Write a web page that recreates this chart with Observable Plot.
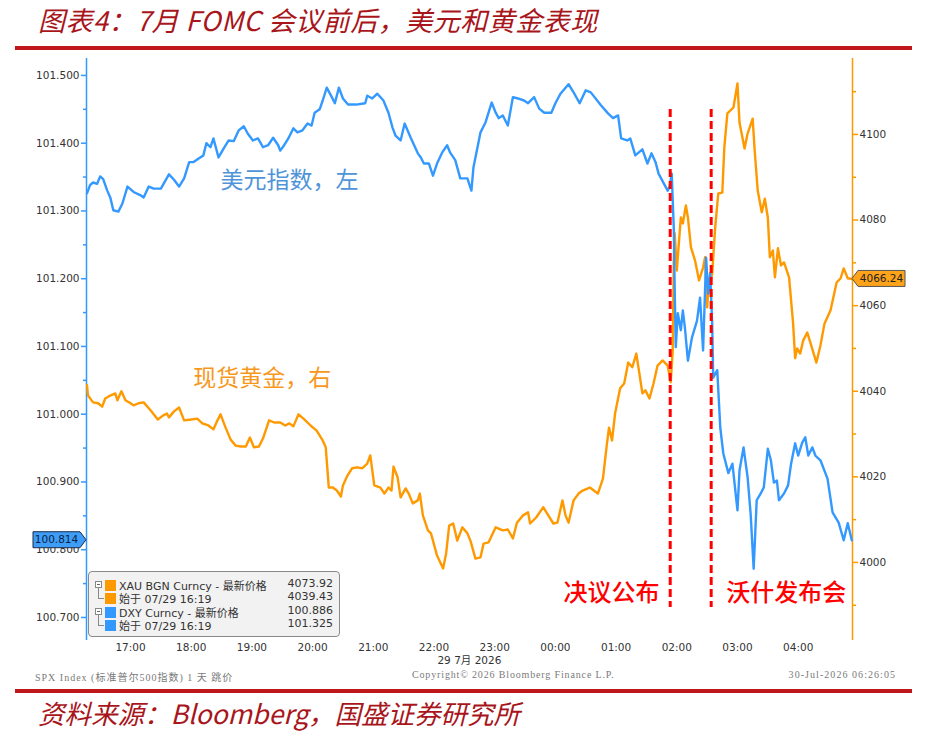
<!DOCTYPE html>
<html>
<head>
<meta charset="utf-8">
<script src="https://cdn.jsdelivr.net/npm/d3@7"></script>
<script src="https://cdn.jsdelivr.net/npm/@observablehq/plot@0.6"></script>
<style>
  body { margin: 0; background: #fff; }
  #page { position: relative; width: 931px; height: 743px; overflow: hidden; font-family: "Noto Sans CJK SC", sans-serif; }
  .title { position: absolute; left: 38px; top: 0px; font-size: 27px; font-style: italic; color: #a8151b; white-space: nowrap; letter-spacing: 0.5px; }
  .source { position: absolute; left: 38px; top: 693px; font-size: 26.5px; font-style: italic; color: #a8151b; white-space: nowrap; }
  .rule { position: absolute; left: 15px; width: 897px; height: 4px; background: #c0171d; }
  #chart { position: absolute; left: 0; top: 52px; }
  .foot { position: absolute; top: 669px; font-family: "Liberation Serif", "Noto Sans CJK SC", serif; font-size: 10px; color: #7a7a7a; white-space: nowrap; }
  #legend { position: absolute; left: 88px; top: 571px; width: 250px; height: 64px; background: #f2f2f2; border: 1.5px solid #8a8a8a; border-radius: 4px; font-family: "DejaVu Sans", "Noto Sans CJK SC", sans-serif; font-size: 11px; color: #333; }
  .lrow { position: absolute; left: 0; width: 250px; height: 13px; }
  .lsq { position: absolute; left: 16px; top: 1px; width: 11px; height: 11px; }
  .ltxt { position: absolute; left: 30px; top: -2px; white-space: nowrap; }
  .lval { position: absolute; right: 6px; top: -2px; white-space: nowrap; }
  .tree-box { position: absolute; left: 6px; top: 2px; width: 5px; height: 5px; border: 1px solid #888; background: #fff; }
  .tree-box::after { content: ""; position: absolute; left: 1px; top: 2px; width: 3px; height: 1px; background: #666; }
  .tree-l { position: absolute; left: 9px; top: -4px; width: 5px; height: 10px; border-left: 1px solid #888; border-bottom: 1px solid #888; }
</style>
</head>
<body>
<div id="page">
  <div class="title" id="title"></div>
  <div class="rule" style="top:46px"></div>
  <div id="chart"></div>
  <div id="legend"></div>
  <div class="foot" id="foot1" style="left:35px; letter-spacing:1px"></div>
  <div class="foot" id="foot2" style="left:412px; letter-spacing:0.85px"></div>
  <div class="foot" id="foot3" style="right:35px; letter-spacing:1.05px"></div>
  <div class="rule" style="top:689px"></div>
  <div class="source" id="source"></div>
</div>
<script>
// ---------- texts ----------
const titleText = "图表4：7月 FOMC 会议前后，美元和黄金表现";
const sourceText = "资料来源：Bloomberg，国盛证券研究所";
const footTexts = ["SPX Index (标准普尔500指数) 1 天 跳价", "Copyright© 2026 Bloomberg Finance L.P.", "30-Jul-2026 06:26:05"];

// ---------- x axis: minutes after 16:00 on 29 Jul ----------
const hourMinutes = [60, 120, 180, 240, 300, 360, 420, 480, 540, 600, 660, 720];
const hourLabels = ["17:00", "18:00", "19:00", "20:00", "21:00", "22:00", "23:00", "00:00", "01:00", "02:00", "03:00", "04:00"];
const dateLabel = "29 7月 2026";
const xDomain = [16.5, 773.7];

// ---------- y axes ----------
const dxyMajor = [100.7, 100.8, 100.9, 101.0, 101.1, 101.2, 101.3, 101.4, 101.5];
const dxyMinor = [100.75, 100.85, 100.95, 101.05, 101.15, 101.25, 101.35, 101.45];
const goldMajor = [4000, 4020, 4040, 4060, 4080, 4100];
const goldMinor = [3990, 4010, 4030, 4050, 4070, 4090, 4110];
const dxyDomain = [100.666, 101.525];
// gold axis values aligned with left-axis values (dual axis)
const goldAlign = [4000, 4100];
const dxyAlign = [100.7812, 101.4129];

// ---------- series: [minutes after 16:00, value] ----------
const dxy = [[17,101.326],[20,101.338],[23,101.342],[27,101.340],[30,101.351],[33,101.347],[37,101.330],[40,101.320],[43,101.301],[48,101.299],[52,101.311],[57,101.336],[63,101.328],[70,101.323],[73,101.320],[78,101.336],[83,101.333],[90,101.333],[98,101.354],[103,101.346],[108,101.336],[113,101.348],[118,101.372],[122,101.372],[127,101.377],[132,101.382],[135,101.400],[139,101.394],[142,101.407],[147,101.379],[152,101.392],[157,101.404],[162,101.403],[167,101.419],[172,101.425],[176,101.414],[181,101.404],[186,101.407],[191,101.394],[196,101.397],[201,101.408],[206,101.397],[208,101.389],[211,101.395],[216,101.407],[221,101.422],[225,101.416],[230,101.419],[235,101.429],[239,101.426],[242,101.445],[247,101.450],[250,101.463],[254,101.482],[259,101.468],[262,101.459],[266,101.482],[270,101.466],[275,101.457],[283,101.457],[292,101.459],[294,101.470],[299,101.466],[304,101.473],[310,101.463],[315,101.445],[319,101.423],[322,101.411],[327,101.404],[331,101.429],[337,101.408],[344,101.385],[347,101.379],[350,101.370],[355,101.370],[359,101.352],[363,101.370],[368,101.386],[373,101.397],[376,101.386],[381,101.375],[386,101.348],[393,101.348],[397,101.330],[399,101.364],[406,101.416],[411,101.431],[417,101.460],[421,101.445],[424,101.437],[428,101.441],[433,101.426],[438,101.468],[443,101.466],[449,101.463],[453,101.459],[459,101.468],[464,101.451],[469,101.445],[476,101.445],[480,101.459],[485,101.473],[493,101.487],[498,101.475],[504,101.459],[510,101.478],[515,101.475],[525,101.456],[532,101.444],[537,101.437],[542,101.441],[545,101.407],[551,101.404],[554,101.407],[559,101.382],[566,101.391],[571,101.370],[575,101.385],[579,101.372],[582,101.355],[587,101.341],[591,101.330],[593,101.336],[595,101.355],[597,101.276],[598,101.178],[599,101.099],[601,101.149],[604,101.124],[606,101.153],[608,101.128],[611,101.079],[615,101.113],[620,101.138],[623,101.172],[626,101.094],[629,101.231],[631,101.178],[633,101.208],[635,101.134],[636,101.054],[640,101.065],[643,100.980],[646,100.942],[651,100.913],[655,100.927],[660,100.858],[662,100.917],[666,100.951],[670,100.907],[673,100.853],[676,100.772],[679,100.873],[683,100.883],[686,100.892],[690,100.949],[693,100.932],[696,100.899],[699,100.902],[701,100.873],[706,100.883],[710,100.895],[713,100.927],[717,100.957],[720,100.939],[724,100.958],[727,100.966],[730,100.939],[734,100.951],[737,100.939],[742,100.932],[749,100.905],[754,100.855],[760,100.840],[765,100.814],[769,100.839],[773,100.814]];

const gold = [[17,4041.4],[18,4039.0],[23,4037.4],[28,4037.2],[32,4036.4],[35,4038.3],[40,4039.0],[45,4039.5],[47,4037.9],[51,4040.0],[55,4037.9],[60,4037.2],[63,4036.7],[68,4037.2],[73,4037.4],[80,4035.5],[87,4033.4],[92,4034.3],[96,4034.8],[98,4033.9],[103,4035.3],[108,4036.2],[113,4033.2],[120,4033.4],[126,4033.6],[131,4032.5],[137,4032.0],[142,4031.1],[146,4033.2],[149,4034.6],[154,4031.5],[159,4028.7],[164,4027.3],[169,4027.1],[174,4027.1],[178,4029.2],[182,4026.9],[187,4027.1],[191,4029.0],[197,4033.2],[202,4032.7],[208,4032.7],[213,4032.0],[217,4032.5],[221,4031.8],[226,4034.6],[231,4033.6],[238,4032.0],[244,4030.8],[250,4028.5],[253,4026.9],[256,4017.5],[260,4017.5],[264,4016.8],[268,4015.4],[270,4018.0],[274,4020.1],[279,4022.0],[284,4022.2],[289,4022.0],[294,4023.1],[297,4025.0],[301,4018.0],[307,4017.5],[311,4016.1],[315,4017.5],[318,4016.8],[320,4022.4],[324,4019.9],[327,4015.2],[332,4017.3],[335,4016.1],[339,4013.8],[344,4014.5],[346,4016.1],[349,4011.0],[354,4007.5],[357,4006.8],[359,4005.1],[363,4001.6],[369,3998.6],[372,4002.1],[375,4008.6],[379,4009.1],[383,4005.1],[388,4008.2],[393,4006.8],[396,4005.1],[401,4000.9],[406,4001.2],[409,4004.4],[414,4004.7],[421,4008.2],[428,4007.5],[433,4007.7],[438,4005.6],[442,4009.3],[448,4011.0],[453,4011.7],[455,4009.1],[461,4010.5],[468,4012.9],[473,4011.0],[478,4009.1],[482,4009.3],[487,4014.5],[490,4011.0],[493,4009.3],[498,4014.5],[503,4016.1],[507,4016.8],[514,4017.5],[522,4016.1],[527,4019.6],[531,4027.8],[533,4031.5],[536,4028.5],[539,4034.8],[544,4040.7],[548,4041.8],[552,4046.7],[556,4045.6],[560,4048.8],[563,4044.2],[566,4039.5],[569,4040.2],[573,4038.3],[577,4041.8],[581,4046.0],[586,4047.2],[591,4046.0],[594,4042.1],[596,4049.5],[597,4070.6],[598,4076.9],[600,4068.2],[604,4080.6],[606,4079.2],[609,4083.4],[611,4080.6],[614,4073.6],[618,4070.6],[622,4065.9],[626,4068.9],[628,4071.3],[630,4059.6],[631,4062.9],[635,4067.5],[638,4078.3],[641,4086.2],[645,4086.4],[647,4097.0],[650,4104.9],[656,4106.3],[660,4111.9],[662,4102.8],[667,4096.7],[670,4100.2],[675,4103.7],[677,4096.3],[680,4086.9],[684,4081.8],[687,4085.0],[690,4080.6],[692,4071.3],[695,4072.9],[697,4066.6],[700,4073.4],[703,4069.4],[706,4070.1],[711,4066.6],[715,4055.8],[717,4047.7],[719,4050.0],[722,4048.8],[725,4051.9],[729,4053.7],[732,4051.4],[738,4046.7],[742,4050.7],[746,4055.8],[752,4058.9],[758,4065.4],[762,4066.4],[765,4068.7],[769,4066.4],[773,4066.24]];

// ---------- events & annotations ----------
const eventMinutes = [593.5, 634];
const eventLabels = ["决议公布", "沃什发布会"];
const seriesLabels = ["美元指数，左", "现货黄金，右"];

// ---------- legend ----------
const legendNames = ["XAU BGN Curncy - 最新价格", "始于 07/29 16:19", "DXY Curncy - 最新价格", "始于 07/29 16:19"];
const legendValues = ["4073.92", "4039.43", "100.886", "101.325"];
const lastDxyLabel = "100.814";
const lastGoldLabel = "4066.24";

// ---------- styles ----------
const blue = "#3399ff", orange = "#ff9900", red = "#ff0000";
const legendColors = [orange, orange, blue, blue];

document.getElementById("title").textContent = titleText;
document.getElementById("source").textContent = sourceText;
document.getElementById("foot1").textContent = footTexts[0];
document.getElementById("foot2").textContent = footTexts[1];
document.getElementById("foot3").textContent = footTexts[2];

const g2d = d3.scaleLinear().domain(goldAlign).range(dxyAlign);
const d2g = g2d.copy().domain(dxyAlign).range(goldAlign);

const hourFmt = d => hourLabels[hourMinutes.indexOf(d)];
const cjk = "Noto Sans CJK SC";

const chart = Plot.plot({
  width: 931,
  height: 630,
  marginLeft: 86,
  marginRight: 79,
  marginTop: 6,
  marginBottom: 42,
  style: { fontFamily: "DejaVu Sans, sans-serif", fontSize: "10.5px", color: "#333", background: "transparent", overflow: "visible" },
  x: { domain: xDomain, label: null },
  y: { domain: dxyDomain, label: null },
  marks: [
    Plot.ruleX([xDomain[0]], { stroke: blue, strokeWidth: 1.5 }),
    Plot.ruleX([xDomain[1]], { stroke: orange, strokeWidth: 1.5 }),
    Plot.axisY({ ticks: dxyMinor, tickSize: 3, tickFormat: () => "", stroke: blue, label: null, strokeWidth: 1.5 }),
    Plot.axisY({ ticks: dxyMajor, tickSize: 5, tickPadding: 2, tickFormat: d3.format(".3f"), stroke: blue, fill: "#333", label: null, strokeWidth: 1.5 }),
    Plot.axisY({ anchor: "right", ticks: goldMinor.map(g2d), tickSize: 3, tickFormat: () => "", stroke: orange, label: null, strokeWidth: 1.5 }),
    Plot.axisY({ anchor: "right", ticks: goldMajor.map(g2d), tickSize: 5, tickPadding: 2, tickFormat: d => d3.format(".0f")(d2g(d)), stroke: orange, fill: "#333", label: null, strokeWidth: 1.5 }),
    Plot.axisX({ ticks: hourMinutes, tickFormat: hourFmt, tickSize: 0, tickPadding: 3, label: null, fill: "#333" }),
    Plot.text([dateLabel], { x: () => 395, frameAnchor: "bottom", dy: 23, text: d => d, fill: "#333", fontFamily: "DejaVu Sans, " + cjk, fontSize: 10.5 }),
    Plot.line(gold, { x: d => d[0], y: d => g2d(d[1]), stroke: orange, strokeWidth: 2.4, curve: "linear" }),
    Plot.line(dxy, { x: d => d[0], y: d => d[1], stroke: blue, strokeWidth: 2.4, curve: "linear" }),
    Plot.ruleX(eventMinutes, { y1: 101.4498, y2: 100.7148, stroke: red, strokeWidth: 3, strokeDasharray: "8,4" }),
    Plot.text([seriesLabels[0]], { x: () => 149, y: () => 101.345, text: d => d, textAnchor: "start", fill: "#4f94d8", fontSize: 23, fontFamily: cjk }),
    Plot.text([seriesLabels[1]], { x: () => 122, y: () => 101.0528, text: d => d, textAnchor: "start", fill: "#f7981d", fontSize: 23, fontFamily: cjk }),
    Plot.text([eventLabels[0]], { x: () => 583, y: () => 100.7354, text: d => d, textAnchor: "end", fill: red, fontSize: 24, fontFamily: cjk, fontWeight: 500 }),
    Plot.text([eventLabels[1]], { x: () => 649, y: () => 100.7354, text: d => d, textAnchor: "start", fill: red, fontSize: 24, fontFamily: cjk, fontWeight: 500 })
  ]
});
document.getElementById("chart").appendChild(chart);

// value tags at the last points, positioned by the plot's own scales
const ys = chart.scale("y");
const xs = chart.scale("x");
const svg = d3.select(chart);
const xl = xs.apply(xDomain[0]), xr = xs.apply(xDomain[1]);
const lastDxy = dxy[dxy.length - 1][1];
const lastGold = gold[gold.length - 1][1];
const yl = ys.apply(lastDxy), yr = ys.apply(g2d(lastGold));
const tagL = svg.append("g");
tagL.append("polygon")
  .attr("points", [[33, yl - 8], [xl - 6, yl - 8], [xl, yl], [xl - 6, yl + 8], [33, yl + 8]].map(p => p.join(",")).join(" "))
  .attr("fill", "#3d9df7").attr("stroke", "#1d2c48").attr("stroke-width", 1);
tagL.append("text").attr("x", (33 + xl - 6) / 2).attr("y", yl).attr("dy", "0.35em").attr("text-anchor", "middle")
  .attr("font-family", "DejaVu Sans").attr("font-size", 10.5).attr("fill", "#0d1f45").text(lastDxyLabel);
const tagR = svg.append("g");
tagR.append("polygon")
  .attr("points", [[xr, yr], [xr + 6, yr - 8], [905, yr - 8], [905, yr + 8], [xr + 6, yr + 8]].map(p => p.join(",")).join(" "))
  .attr("fill", "#ffa31a").attr("stroke", "#555").attr("stroke-width", 1);
tagR.append("text").attr("x", (xr + 6 + 905) / 2).attr("y", yr).attr("dy", "0.35em").attr("text-anchor", "middle")
  .attr("font-family", "DejaVu Sans").attr("font-size", 10.5).attr("fill", "#222").text(lastGoldLabel);

// legend box
const legend = document.getElementById("legend");
legendNames.forEach((name, i) => {
  const row = document.createElement("div");
  row.className = "lrow";
  row.style.top = (7 + i * 13.4) + "px";
  const tree = document.createElement("div");
  tree.className = i % 2 === 0 ? "tree-box" : "tree-l";
  const sq = document.createElement("div");
  sq.className = "lsq";
  sq.style.background = legendColors[i];
  const t = document.createElement("div");
  t.className = "ltxt";
  t.textContent = name;
  const v = document.createElement("div");
  v.className = "lval";
  v.textContent = legendValues[i];
  row.append(tree, sq, t, v);
  legend.appendChild(row);
});
</script>
</body>
</html>
